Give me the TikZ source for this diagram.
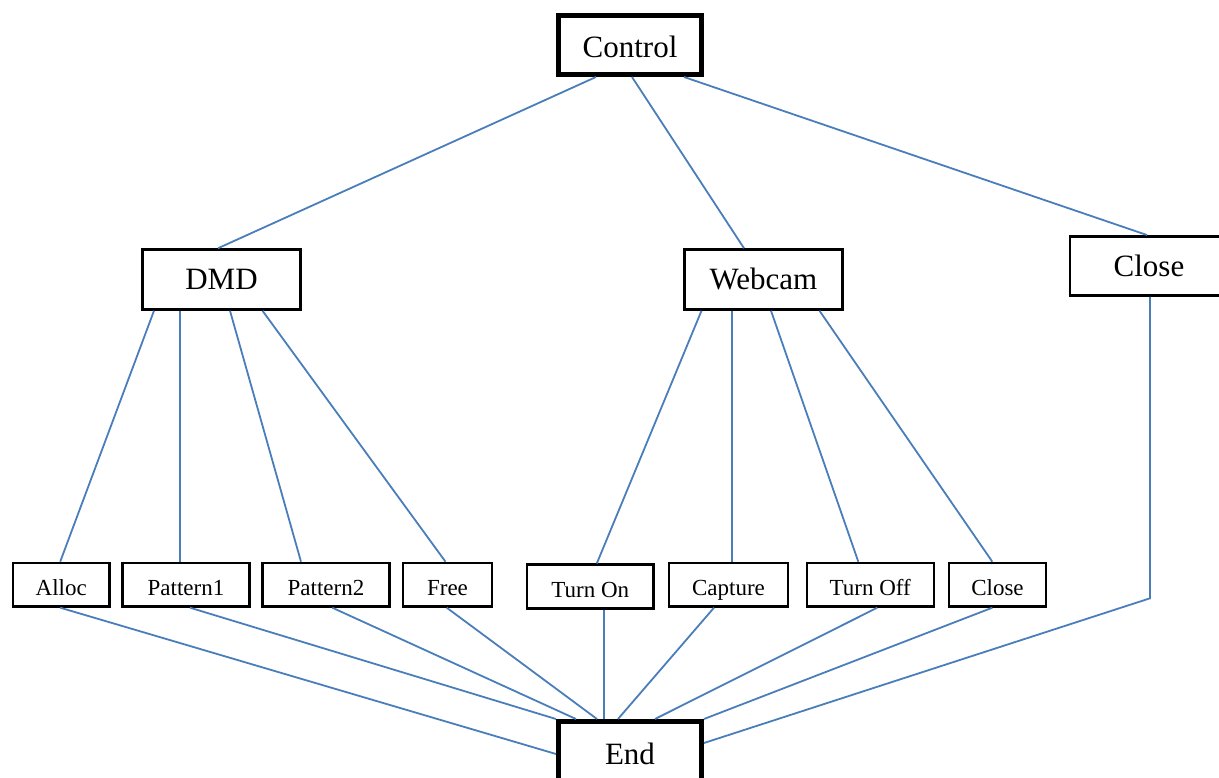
\documentclass[tikz,border=0pt]{standalone}
\usepackage{fontspec}
\setmainfont{Liberation Serif}
\usetikzlibrary{calc}
\definecolor{conn}{HTML}{4A7EBB}
\tikzset{
  box/.style={draw=black, line width=2.5pt, fill=white, inner sep=0pt, text height=20.6pt, text depth=0pt},
  bigbox/.style={box, font=\fontsize{31}{31}\selectfont, minimum width=158pt, minimum height=60pt},
  smallbox/.style={box, font=\fontsize{23}{23}\selectfont, minimum height=43.5pt},
  thickbox/.style={box, line width=5pt, text height=26pt, font=\fontsize{31}{31}\selectfont, minimum width=143pt, minimum height=59pt},
  link/.style={draw=conn, line width=1.8pt}
}
\begin{document}
\begin{tikzpicture}[x=1pt,y=-1pt]
\useasboundingbox (0,0) rectangle (1219,778);
% connectors first (behind boxes)
\node[thickbox] (ctrl) at (630,45) {Control};
\node[bigbox] (dmd) at (221.5,279.5) {DMD};
\node[bigbox] (web) at (763.5,279.5) {Webcam};
\node[bigbox, minimum height=59.4pt] (close) at (1149,266) {Close};
\node[smallbox, minimum width=96.5pt] (alloc) at (61.2,584.7) {Alloc};
\node[smallbox, minimum width=127.4pt] (p1) at (186,584.7) {Pattern1};
\node[smallbox, minimum width=127.4pt] (p2) at (326,584.7) {Pattern2};
\node[smallbox, minimum width=89pt] (free) at (447.5,584.7) {Free};
\node[smallbox, minimum width=126.8pt, minimum height=44pt] (ton) at (590.3,586.7) {Turn On};
\node[smallbox, minimum width=119pt] (cap) at (728.5,584.7) {Capture};
\node[smallbox, minimum width=127pt] (toff) at (870.3,584.7) {Turn Off};
\node[smallbox, minimum width=97pt] (cl2) at (997.5,584.7) {Close};
\node[thickbox] (end) at (630,751) {End};
\coordinate (bend) at (1150,598.3);

\path[link] ([xshift=-34pt]ctrl.south) -- ([xshift=-3.5pt]dmd.north);
\path[link] ([xshift=2pt]ctrl.south) -- ([xshift=-19.5pt]web.north);
\path[link] ([xshift=54pt]ctrl.south) -- ([xshift=-2pt]close.north);

\path[link] ([xshift=-67.5pt]dmd.south) -- ([xshift=-1pt]alloc.north);
\path[link] ([xshift=-41.5pt]dmd.south) -- ([xshift=-6pt]p1.north);
\path[link] ([xshift=8.5pt]dmd.south) -- ([xshift=-25pt]p2.north);
\path[link] ([xshift=41pt]dmd.south) -- ([xshift=-2pt]free.north);

\path[link] ([xshift=-62pt]web.south) -- ([xshift=6.5pt]ton.north);
\path[link] ([xshift=-31.2pt]web.south) -- ([xshift=3.8pt]cap.north);
\path[link] ([xshift=7.5pt]web.south) -- ([xshift=-12pt]toff.north);
\path[link] ([xshift=56pt]web.south) -- ([xshift=-5.2pt]cl2.north);

\path[link] ([xshift=-1pt]alloc.south) -- ([yshift=-3pt]end.west);
\path[link] ([xshift=4pt]p1.south) -- (end.north west);
\path[link] ([xshift=6.3pt]p2.south) -- ([xshift=-54pt]end.north);
\path[link] ([xshift=-0.8pt]free.south) -- ([xshift=-33pt]end.north);
\path[link] ([xshift=13.7pt]ton.south) -- ([xshift=-26pt]end.north);
\path[link] ([xshift=-14.5pt]cap.south) -- ([xshift=-12pt]end.north);
\path[link] ([xshift=7pt]toff.south) -- ([xshift=25pt]end.north);
\path[link] ([xshift=-5.2pt]cl2.south) -- (end.north east);
\path[link] ([xshift=1pt]close.south) -- (bend) -- ([yshift=8pt]end.east);
\end{tikzpicture}
\end{document}
